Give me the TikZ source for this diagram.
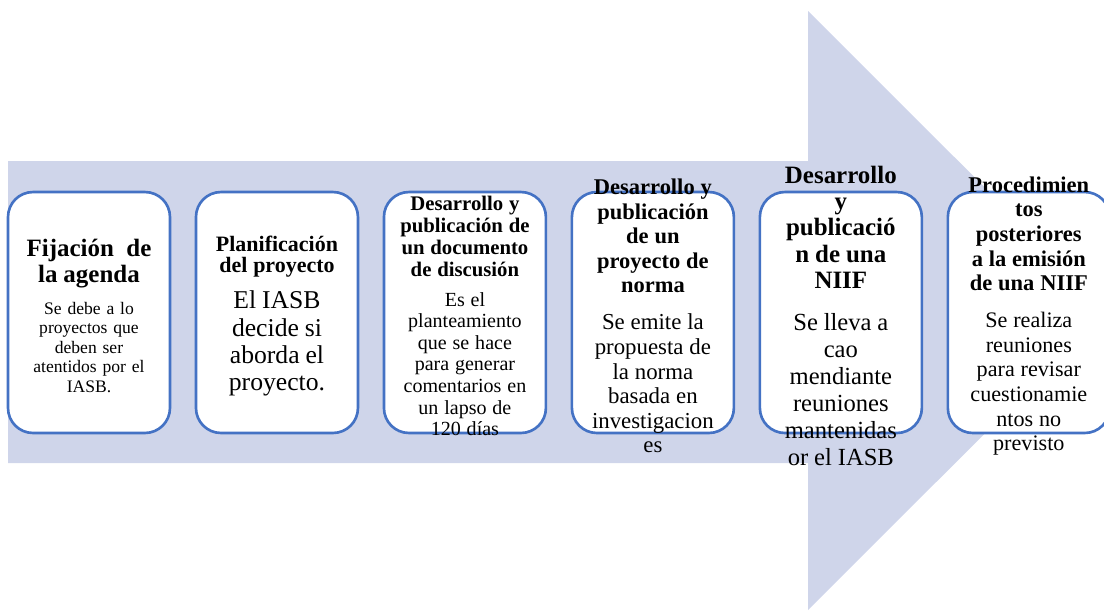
\documentclass[tikz,border=0pt]{standalone}
\usepackage{fontspec}
\setmainfont{Liberation Serif}
\usetikzlibrary{positioning}
\definecolor{bandblue}{RGB}{207,213,234}
\definecolor{boxblue}{RGB}{68,114,196}
\newcommand{\fsz}[2]{\fontsize{#1}{#2}\selectfont}

\begin{document}
\begin{tikzpicture}[x=0.02cm, y=-0.02cm, node distance=0.52cm]
\tikzset{
  box/.style={draw=boxblue, line width=1.5pt, fill=white, rounded corners=0.5cm,
    minimum width=3.24cm, minimum height=4.82cm, inner sep=0pt, outer sep=0pt},
  txt/.style={text width=4cm, align=center, inner sep=0pt, yshift=-2pt}
}
\useasboundingbox (0,0) rectangle (1104,610);
% flecha de fondo
\fill[bandblue] (8,161) -- (808,161) -- (808,11) -- (1108,310.5) -- (808,610)
  -- (808,463) -- (8,463) -- cycle;
% etapas
\node[box] (b1) at (89,312.5) {};
\node[box, right=of b1] (b2) {};
\node[box, right=of b2] (b3) {};
\node[box, right=of b3] (b4) {};
\node[box, right=of b4] (b5) {};
\node[box, right=of b5] (b6) {};
% textos
\node[txt] (t1) at (b1) {\fsz{14.2}{14.8}\bfseries Fijación\enspace de\\la agenda\par
  \vspace{7pt}\fsz{10}{11.1}\mdseries Se debe a lo\\proyectos que\\deben ser\\atentidos por el\\IASB.\par};
\node[txt] (t2) at (b2) {\fsz{12.5}{12.2}\bfseries Planificación\\del proyecto\par
  \vspace{5pt}\fsz{14.6}{15.5}\mdseries El IASB\\decide si\\aborda el\\proyecto.\par};
\node[txt] (t3) at (b3) {\fsz{11.8}{12.5}\bfseries Desarrollo y\\publicación de\\un documento\\de discusión\par
  \vspace{4.7pt}\fsz{11.4}{12.3}\mdseries Es el\\planteamiento\\que se hace\\para generar\\comentarios en\\un lapso de\\120 días\par};
\node[txt] (t4) at (b4) {\fsz{12.8}{14}\bfseries Desarrollo y\\publicación\\de un\\proyecto de\\norma\par
  \vspace{7pt}\fsz{13}{14}\mdseries Se emite la\\propuesta de\\la norma\\basada en\\investigacion\\es\par};
\node[txt] (t5) at (b5) {\fsz{14.2}{15}\bfseries Desarrollo\\y\\publicació\\n de una\\NIIF\par
  \vspace{8.6pt}\fsz{14}{15.4}\mdseries Se lleva a\\cao\\mendiante\\reuniones\\mantenidas\\or el IASB\par};
\node[txt] (t6) at (b6) {\fsz{12.8}{14}\bfseries Procedimien\\tos\\posteriores\\a la emisión\\de una NIIF\par
  \vspace{7pt}\fsz{12.6}{14}\mdseries Se realiza\\reuniones\\para revisar\\cuestionamie\\ntos no\\previsto\par};
\end{tikzpicture}
\end{document}
